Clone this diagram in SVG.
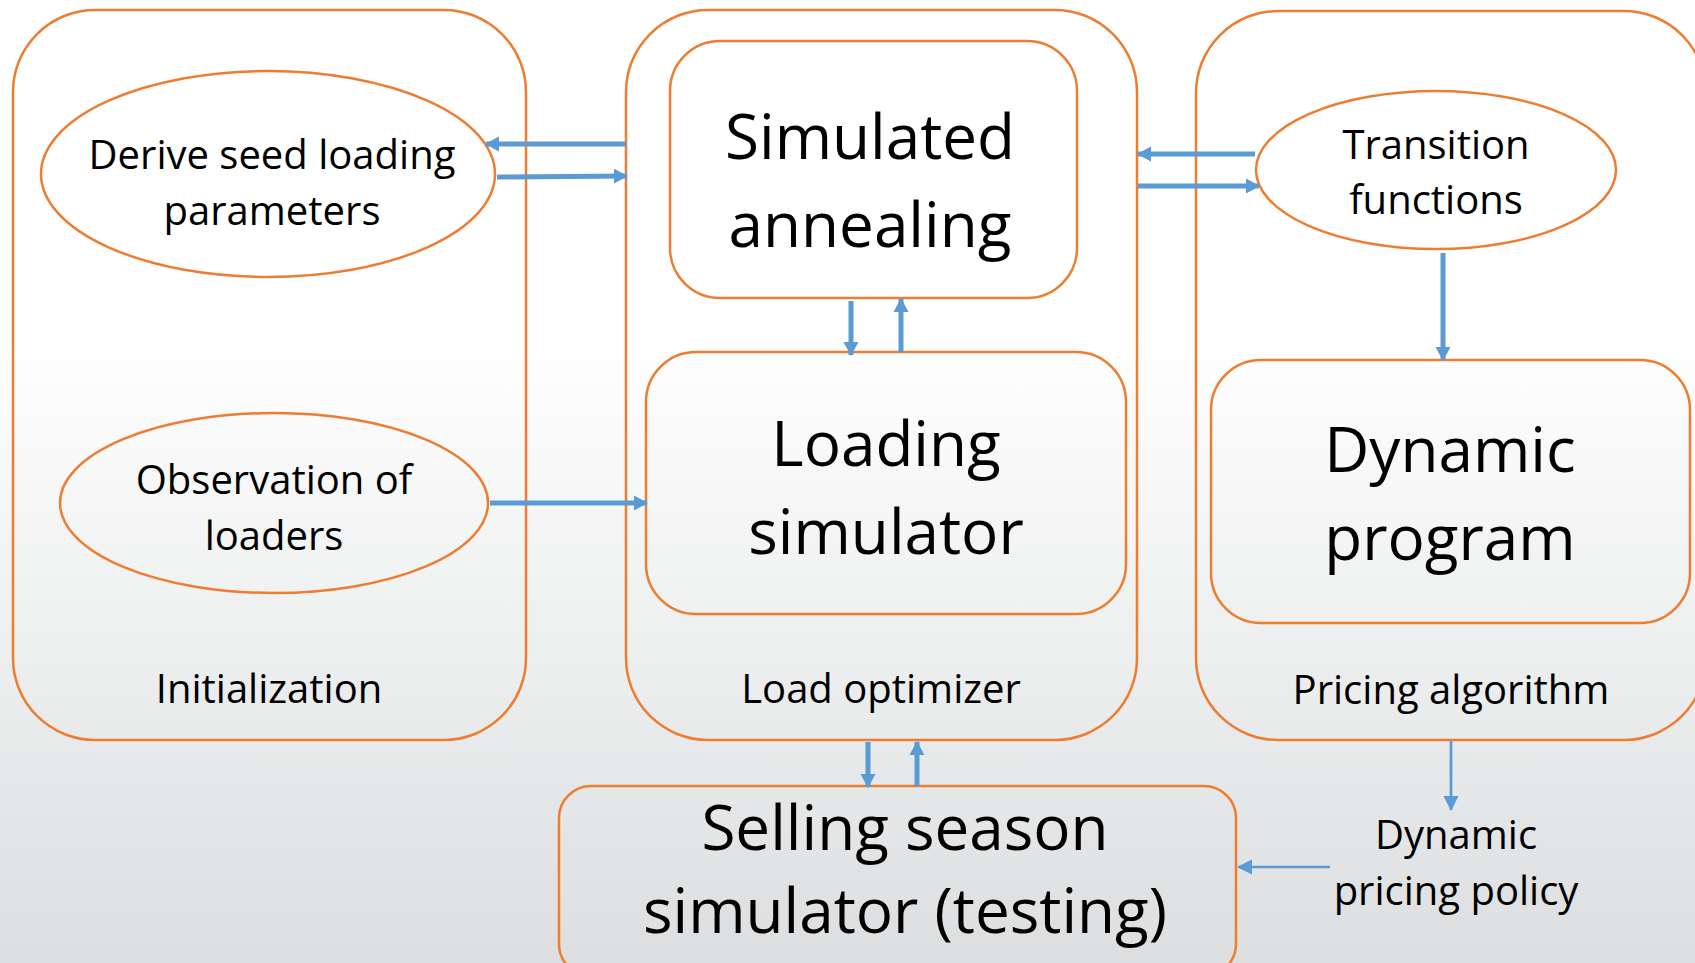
<svg xmlns="http://www.w3.org/2000/svg" width="1695" height="963" viewBox="0 0 1695 963">
<defs>
<linearGradient id="bg" x1="0" y1="0" x2="0" y2="1">
<stop offset="0" stop-color="#ffffff"/>
<stop offset="0.35" stop-color="#ffffff"/>
<stop offset="1" stop-color="#dcdedf"/>
</linearGradient>
<marker id="ah" markerUnits="userSpaceOnUse" markerWidth="14" markerHeight="16" refX="13" refY="8" orient="auto">
<path d="M0,0.5 L14,8 L0,15.5 Z" fill="#5b9bd5"/>
</marker>
<marker id="ahs" markerUnits="userSpaceOnUse" markerWidth="15" markerHeight="16" refX="14" refY="8" orient="auto">
<path d="M0,0.5 L15,8 L0,15.5 Z" fill="#5b9bd5"/>
</marker>
</defs>
<style>
.box{fill:none;stroke:#ed7d31;stroke-width:2.5}
.t{font-family:"Open Sans","Liberation Sans",sans-serif;fill:#000;text-anchor:middle}
.s{font-size:40px}
.b{font-size:62px}
.c{fill:none;stroke:#5b9bd5;stroke-width:5;marker-end:url(#ah)}
.cs{fill:none;stroke:#5b9bd5;stroke-width:2.7;marker-end:url(#ahs)}
</style>
<rect x="0" y="0" width="1695" height="963" fill="url(#bg)"/>

<g id="initialization">
<rect class="box" x="13" y="10" width="513" height="730" rx="82"/>
<text class="t s" x="269" y="703">Initialization</text>
</g>
<g id="derive-seed">
<ellipse class="box" cx="268" cy="174" rx="227" ry="103"/>
<text class="t s" x="272" y="169">Derive seed loading</text>
<text class="t s" x="272" y="225">parameters</text>
</g>
<g id="observation">
<ellipse class="box" cx="274" cy="503" rx="214" ry="90"/>
<text class="t s" x="274" y="494">Observation of</text>
<text class="t s" x="274" y="550">loaders</text>
</g>

<g id="load-optimizer">
<rect class="box" x="626" y="10" width="511" height="730" rx="82"/>
<text class="t s" x="881" y="703">Load optimizer</text>
</g>
<g id="simulated-annealing">
<rect class="box" x="670" y="41" width="407" height="257" rx="50"/>
<text class="t b" x="870" y="159">Simulated</text>
<text class="t b" x="870" y="247">annealing</text>
</g>
<g id="loading-simulator">
<rect class="box" x="646" y="352" width="480" height="262" rx="50"/>
<text class="t b" x="886" y="466">Loading</text>
<text class="t b" x="886" y="554">simulator</text>
</g>

<g id="pricing-algorithm">
<rect class="box" x="1196" y="11" width="510" height="729" rx="82"/>
<text class="t s" x="1451" y="704">Pricing algorithm</text>
</g>
<g id="transition-functions">
<ellipse class="box" cx="1436" cy="170" rx="180" ry="79"/>
<text class="t s" x="1436" y="159">Transition</text>
<text class="t s" x="1436" y="214">functions</text>
</g>
<g id="dynamic-program">
<rect class="box" x="1211" y="360" width="479" height="263" rx="50"/>
<text class="t b" x="1450" y="472">Dynamic</text>
<text class="t b" x="1450" y="560">program</text>
</g>

<g id="selling-season">
<rect class="box" x="559" y="786" width="677" height="190" rx="32"/>
<text class="t b" x="905" y="850">Selling season</text>
<text class="t b" x="905" y="933">simulator (testing)</text>
</g>
<g id="dynamic-pricing-policy">
<text class="t s" x="1456" y="849">Dynamic</text>
<text class="t s" x="1456" y="905">pricing policy</text>
</g>

<g id="connectors">
<line class="c" x1="626" y1="144" x2="486" y2="144"/>
<line class="c" x1="497" y1="177" x2="627" y2="176"/>
<line class="c" x1="490" y1="503" x2="647" y2="503"/>
<line class="c" x1="851" y1="301" x2="851" y2="355"/>
<line class="c" x1="901" y1="352" x2="901" y2="299"/>
<line class="c" x1="1255" y1="154" x2="1138" y2="154"/>
<line class="c" x1="1138" y1="186" x2="1259" y2="186"/>
<line class="c" x1="1443" y1="253" x2="1443" y2="360"/>
<line class="c" x1="868" y1="742" x2="868" y2="787"/>
<line class="c" x1="917" y1="786" x2="917" y2="742"/>
<line class="cs" x1="1451" y1="741" x2="1451" y2="810"/>
<line class="cs" x1="1330" y1="867" x2="1238" y2="867"/>
</g>
</svg>
